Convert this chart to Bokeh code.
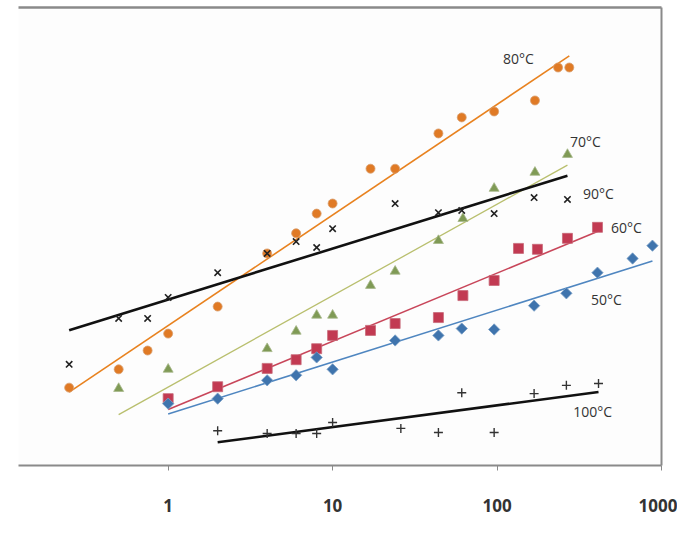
import numpy as np
from bokeh.plotting import figure
from bokeh.models import FixedTicker, Range1d, ColumnDataSource, LinearAxis
from bokeh.core.properties import value
from bokeh.embed import file_html
from bokeh.resources import INLINE

# ---- data (x: time on log axis, y: arbitrary units) ----
x80 = [0.25, 0.5, 0.75, 1, 2, 4, 6, 8, 10, 17, 24, 44, 61, 96, 170, 235, 275]
y80 = [17.0, 21.0, 25.1, 28.8, 34.7, 46.3, 50.7, 55.0, 57.2, 64.8, 64.8, 72.5, 76.0, 77.3, 79.7, 86.9, 86.9]

x70 = [0.5, 1, 4, 6, 8, 10, 17, 24, 44, 62, 96, 170, 268]
y70 = [16.8, 21.0, 25.5, 29.3, 32.8, 32.8, 39.3, 42.4, 49.1, 53.9, 60.5, 64.0, 67.9]

x90 = [0.25, 0.5, 0.75, 1, 2, 4, 6, 8, 10, 24, 44, 61, 96, 168, 268]
y90 = [22.1, 32.1, 32.1, 36.7, 42.1, 46.3, 48.9, 47.6, 51.7, 57.2, 55.2, 55.7, 55.0, 58.5, 58.1]

x60 = [1, 2, 4, 6, 8, 10, 17, 24, 44, 62, 96, 135, 176, 268, 408]
y60 = [14.6, 17.2, 21.2, 23.1, 25.5, 28.4, 29.5, 31.0, 32.3, 37.1, 40.4, 47.4, 47.2, 49.6, 52.0]

x50 = [1, 2, 4, 6, 8, 10, 24, 44, 61, 96, 168, 264, 408, 667, 881]
y50 = [13.5, 14.6, 18.6, 19.7, 23.6, 21.0, 27.3, 28.4, 29.9, 29.7, 34.9, 37.6, 42.1, 45.2, 48.0]

x100 = [2, 4, 6, 8, 10, 26, 44, 61, 96, 168, 264, 414]
y100 = [7.6, 7.0, 7.0, 7.0, 9.4, 8.1, 7.2, 15.9, 7.2, 15.7, 17.5, 17.9]

tick_values = [1, 10, 100, 1000]
tick_labels = ["1", "10", "100", "1000"]

series_names = ["80°C", "70°C", "90°C", "60°C", "50°C", "100°C"]
label_x = [135, 345, 414, 612, 463, 381]
label_y = [88.9, 70.7, 59.4, 52.0, 36.2, 11.8]

# ---- figure ----
p = figure(width=677, height=530, x_axis_type="log",
           x_range=Range1d(0.123, 1000), y_range=Range1d(0, 100),
           output_backend="svg", toolbar_location=None,
           y_axis_location=None, min_border_left=18, min_border_right=16,
           min_border_top=7, min_border_bottom=65)
p.outline_line_color = None
p.background_fill_color = "#fdfdfd"
p.border_fill_color = "white"
p.xgrid.visible = False
p.ygrid.visible = False

ax = p.xaxis[0]
ax.ticker = FixedTicker(ticks=tick_values)
ax.major_label_overrides = {v: s for v, s in zip(tick_values, tick_labels)}
ax.axis_line_color = "#8a8a8a"
ax.axis_line_width = 2
ax.major_tick_line_color = "#8a8a8a"
ax.major_tick_in = 0
ax.major_tick_out = 5
ax.minor_tick_line_color = None
ax.major_label_standoff = 28
ax.major_label_text_font = "Open Sans"
ax.major_label_text_font_style = "bold"
ax.major_label_text_font_size = "17px"
ax.major_label_text_color = "#333333"

# frame top & right borders drawn as bare axes
for loc, w in (("above", 2.5), ("right", 2)):
    a = LinearAxis(ticker=FixedTicker(ticks=[]), axis_line_color="#8a8a8a", axis_line_width=w,
                   major_tick_line_color=None, minor_tick_line_color=None,
                   major_tick_out=0, major_tick_in=0, major_label_standoff=0,
                   major_label_text_font_size="0px")
    p.add_layout(a, loc)


def trend(xs, ys, color, width):
    lx = np.log10(np.array(xs, dtype=float))
    k, b = np.polyfit(lx, np.array(ys, dtype=float), 1)
    xe = np.array([min(xs), max(xs)], dtype=float)
    p.line(xe, k * np.log10(xe) + b, line_color=color, line_width=width)


# trend lines
trend(x80, y80, "#e8821f", 1.6)
trend(x70, y70, "#b9bf6e", 1.3)
trend(x90, y90, "#111111", 2.6)
trend(x60, y60, "#c8465a", 1.6)
trend(x50, y50, "#4f86c0", 1.6)
trend(x100, y100, "#111111", 2.6)

# markers
p.scatter(x80, y80, marker="circle", size=9, fill_color="#e07a25", line_color="#d9a070", line_width=0.8)
p.scatter(x70, y70, marker="triangle", size=10, fill_color="#7f9a55", line_color="#a7b88a", line_width=0.8)
p.scatter(x60, y60, marker="square", size=10, fill_color="#c23a52", line_color="#c86a78", line_width=0.8)
p.scatter(x50, y50, marker="square", angle=np.pi / 4, size=8, fill_color="#3f74ad",
          line_color="#7aa0c6", line_width=0.8)
p.scatter(x90, y90, marker="x", size=9, line_color="#222222", line_width=1.6)
p.scatter(x100, y100, marker="cross", size=9, line_color="#333333", line_width=1.4)

# series labels
src = ColumnDataSource(dict(x=label_x, y=label_y, t=series_names))
p.text(x="x", y="y", text="t", source=src, text_align="center", text_baseline="middle",
       text_font=value("Open Sans"), text_font_size="14px", text_color="#333333")

open("out.html", "w").write(file_html(p, INLINE))
